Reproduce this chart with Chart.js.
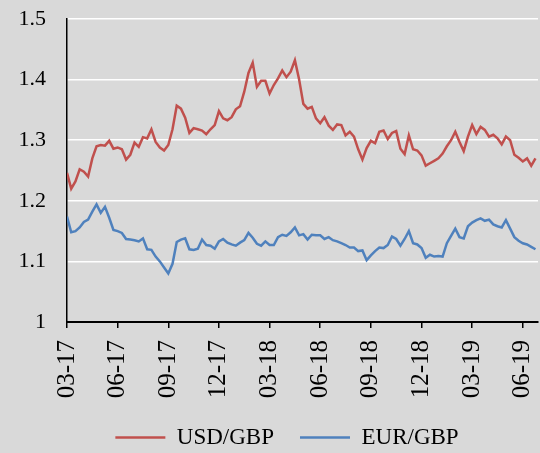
<!DOCTYPE html>
<html>
<head>
<meta charset="utf-8">
<title>USD/GBP and EUR/GBP</title>
<script src="https://cdn.jsdelivr.net/npm/chart.js@4/dist/chart.umd.min.js"></script>
<style>
    html, body { margin: 0; padding: 0; background: #d9d9d9; }
    #wrap { width: 540px; height: 453px; position: relative; }
</style>
</head>
<body>
<div id="wrap"><canvas id="fxChart"></canvas></div>
<script>
// Quarter labels on the x axis (one every 3 months, starting March 2017)
const tickLabels = ['03-17', '06-17', '09-17', '12-17', '03-18', '06-18', '09-18', '12-18', '03-19', '06-19'];

// Weekly readings, roughly a quarter month apart
const STEP_MONTHS = 0.25;

const usdGbp = [
    1.246, 1.220, 1.232, 1.252, 1.248, 1.240, 1.270, 1.290, 1.292, 1.291,
    1.299, 1.286, 1.288, 1.285, 1.268, 1.276, 1.296, 1.289, 1.305, 1.303,
    1.318, 1.297, 1.288, 1.283, 1.292, 1.318, 1.357, 1.352, 1.337, 1.312,
    1.320, 1.318, 1.316, 1.310, 1.318, 1.325, 1.348, 1.336, 1.333, 1.338,
    1.351, 1.356, 1.380, 1.411, 1.428, 1.388, 1.398, 1.398, 1.377, 1.391,
    1.402, 1.415, 1.404, 1.413, 1.432, 1.400, 1.360, 1.352, 1.355, 1.336,
    1.328, 1.338, 1.324, 1.317, 1.326, 1.325, 1.308, 1.314, 1.306, 1.285,
    1.268, 1.287, 1.299, 1.295, 1.314, 1.316, 1.302, 1.312, 1.315, 1.286,
    1.277, 1.308, 1.285, 1.283, 1.275, 1.258, 1.262, 1.266, 1.270, 1.278,
    1.290, 1.300, 1.314, 1.297, 1.282, 1.306, 1.325, 1.310, 1.322, 1.317,
    1.306, 1.309, 1.303, 1.293, 1.306, 1.300, 1.276, 1.271, 1.265, 1.270,
    1.258, 1.270
];

const eurGbp = [
    1.174, 1.148, 1.150, 1.156, 1.165, 1.169, 1.182, 1.194, 1.180, 1.190,
    1.172, 1.152, 1.150, 1.147, 1.137, 1.136, 1.135, 1.133, 1.138, 1.120,
    1.119, 1.108, 1.100, 1.090, 1.080, 1.096, 1.132, 1.136, 1.138, 1.120,
    1.119, 1.121, 1.136, 1.127, 1.126, 1.121, 1.133, 1.137, 1.131, 1.128,
    1.126, 1.131, 1.135, 1.147, 1.139, 1.129, 1.126, 1.133, 1.127, 1.127,
    1.140, 1.144, 1.142, 1.148, 1.156, 1.143, 1.145, 1.136, 1.144, 1.143,
    1.143, 1.137, 1.140, 1.135, 1.133, 1.130, 1.127, 1.123, 1.123, 1.117,
    1.118, 1.102, 1.110, 1.117, 1.123, 1.122, 1.127, 1.141, 1.137, 1.126,
    1.137, 1.150, 1.130, 1.128, 1.122, 1.106, 1.111, 1.108, 1.109, 1.108,
    1.130, 1.142, 1.154, 1.140, 1.138, 1.158, 1.164, 1.168, 1.171, 1.167,
    1.169, 1.161, 1.158, 1.156, 1.168, 1.154, 1.140, 1.134, 1.130, 1.128,
    1.124, 1.120
];

const FONT = "'Liberation Serif', 'Times New Roman', serif";

/**
 * Turn a list of weekly values into {x, y} points (x in months since 03-17)
 */
function toPoints(values) {
    return values.map((v, i) => ({ x: i * STEP_MONTHS, y: v }));
}

// Nudge the legend a little to the right, like the original
const legendNudge = {
    id: 'legendNudge',
    afterLayout(chart) {
        chart.legend.left += 10;
        chart.legend.right += 10;
    },
};

/**
 * Build the chart
 */
function init() {
    const ctx = document.getElementById('fxChart');

    new Chart(ctx, {
        type: 'line',
        data: {
            datasets: [
                {
                    label: 'USD/GBP',
                    data: toPoints(usdGbp),
                    borderColor: '#c0504d',
                    backgroundColor: '#c0504d',
                    borderWidth: 2.5,
                    pointRadius: 0,
                    pointStyle: 'line',
                    tension: 0,
                },
                {
                    label: 'EUR/GBP',
                    data: toPoints(eurGbp),
                    borderColor: '#4f81bd',
                    backgroundColor: '#4f81bd',
                    borderWidth: 2.5,
                    pointRadius: 0,
                    pointStyle: 'line',
                    tension: 0,
                },
            ],
        },
        plugins: [legendNudge],
        options: {
            responsive: true,
            maintainAspectRatio: false,
            animation: false,
            events: [],
            layout: {
                padding: { left: 16, top: 19, right: 2, bottom: -6 },
            },
            plugins: {
                tooltip: { enabled: false },
                legend: {
                    position: 'bottom',
                    labels: {
                        usePointStyle: true,
                        pointStyleWidth: 50,
                        padding: 26,
                        color: '#000',
                        font: { family: FONT, size: 23 },
                    },
                },
            },
            scales: {
                x: {
                    type: 'linear',
                    min: 0,
                    max: 27.9,
                    afterFit: (scale) => {
                        // vertical labels need no side room; fixed band height
                        scale.paddingLeft = 0;
                        scale.paddingRight = 0;
                        scale.height = 78;
                    },
                    grid: {
                        drawOnChartArea: false,
                        drawTicks: true,
                        tickLength: 6,
                        color: '#000',
                        lineWidth: 1.5,
                    },
                    border: { display: true, color: '#000', width: 2 },
                    ticks: {
                        stepSize: 3,
                        includeBounds: false,
                        autoSkip: false,
                        minRotation: 90,
                        maxRotation: 90,
                        padding: 12,
                        color: '#000',
                        font: { family: FONT, size: 25 },
                        callback: (value) => tickLabels[Math.round(value / 3)],
                    },
                },
                y: {
                    min: 1,
                    max: 1.5,
                    afterFit: (scale) => {
                        scale.width = 51;
                        scale.paddingTop = 0;
                        scale.paddingBottom = 0;
                    },
                    grid: {
                        drawTicks: false,
                        lineWidth: 1.5,
                        color: (c) => (c.tick && c.tick.value === 1 ? 'rgba(0,0,0,0)' : '#ffffff'),
                    },
                    border: { display: true, color: '#000', width: 1.5 },
                    ticks: {
                        stepSize: 0.1,
                        padding: 21,
                        color: '#000',
                        font: { family: FONT, size: 22 },
                        callback: (value) => (value === 1 ? '1' : value.toFixed(1)),
                    },
                },
            },
        },
    });
}

document.addEventListener('DOMContentLoaded', init);
</script>
</body>
</html>
